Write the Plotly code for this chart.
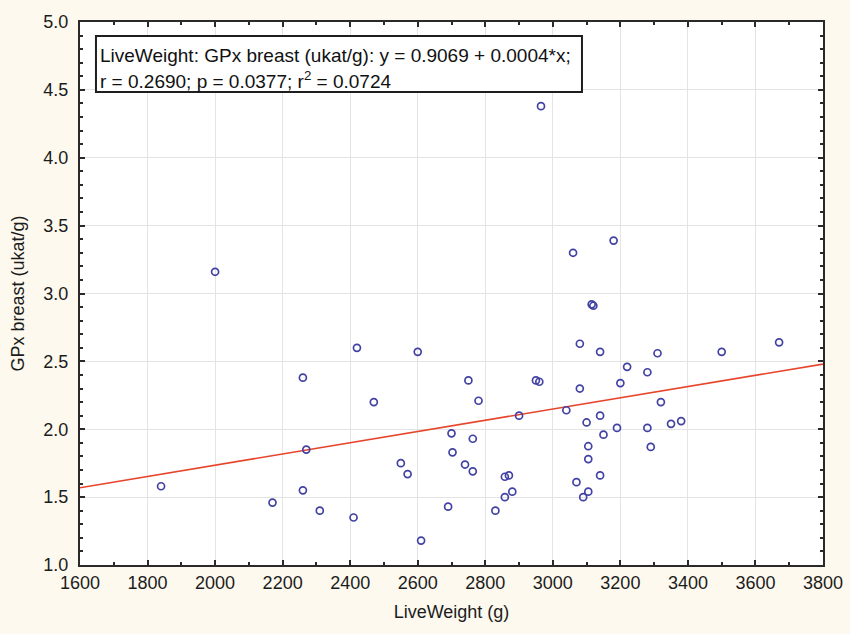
import plotly.graph_objects as go

# Data
live_weight = [1840, 2000, 2170, 2260, 2260, 2270, 2310, 2410, 2420, 2470,
               2550, 2570, 2600, 2610, 2690, 2700, 2703, 2740, 2750, 2763,
               2763, 2780, 2830, 2858, 2870, 2858, 2880, 2900, 2950, 2960,
               2965, 3040, 3060, 3070, 3080, 3080, 3090, 3100, 3105, 3105,
               3105, 3115, 3120, 3140, 3140, 3140, 3150, 3180, 3190, 3200,
               3220, 3280, 3280, 3290, 3310, 3320, 3350, 3380, 3500, 3670]
gpx_breast = [1.58, 3.16, 1.46, 2.38, 1.55, 1.85, 1.40, 1.35, 2.60, 2.20,
              1.75, 1.67, 2.57, 1.18, 1.43, 1.97, 1.83, 1.74, 2.36, 1.93,
              1.69, 2.21, 1.40, 1.65, 1.66, 1.50, 1.54, 2.10, 2.36, 2.35,
              4.38, 2.14, 3.30, 1.61, 2.63, 2.30, 1.50, 2.05, 1.875, 1.78,
              1.54, 2.92, 2.91, 2.57, 2.10, 1.66, 1.96, 3.39, 2.01, 2.34,
              2.46, 2.42, 2.01, 1.87, 2.56, 2.20, 2.04, 2.06, 2.57, 2.64]

# Regression line (intercept from the legend box, slope)
reg_intercept = 0.9069
reg_slope = 0.000414
x_range = [1600, 3800]
y_range = [1.0, 5.0]
x_ticks = [1600, 1800, 2000, 2200, 2400, 2600, 2800, 3000, 3200, 3400, 3600, 3800]
y_ticks = [1.0, 1.5, 2.0, 2.5, 3.0, 3.5, 4.0, 4.5, 5.0]

line1 = "LiveWeight: GPx breast (ukat/g): y = 0.9069 + 0.0004*x;"
line2 = "r = 0.2690; p = 0.0377; r<sup>2</sup> = 0.0724"

reg_y = [reg_intercept + reg_slope * v for v in x_range]

FONT = "Liberation Sans, Arial, sans-serif"
TXT = "#1c1c1c"
BG = "#fdf9ee"

fig = go.Figure()
fig.add_trace(go.Scatter(
    x=x_range, y=reg_y, mode="lines",
    line=dict(color="#e8452c", width=1.6),
    hoverinfo="skip", showlegend=False))
fig.add_trace(go.Scatter(
    x=live_weight, y=gpx_breast, mode="markers",
    marker=dict(symbol="circle-open", size=7, color="#4242a4",
                line=dict(width=1.7, color="#4242a4")),
    showlegend=False))

axis_common = dict(
    showline=True, linecolor="#2a2a2a", linewidth=2, mirror="allticks",
    ticks="inside", ticklen=5, tickwidth=1.5, tickcolor="#2a2a2a",
    showgrid=True, gridcolor="#e4e4e4", gridwidth=1, zeroline=False,
    tickfont=dict(family=FONT, size=18, color=TXT),
    automargin=False,
)

fig.update_xaxes(
    range=x_range, tickvals=x_ticks, ticktext=[str(v) for v in x_ticks],
    minor=dict(dtick=100, ticks="inside", ticklen=3, tickcolor="#2a2a2a", showgrid=False),
    title=dict(text="LiveWeight (g)", font=dict(family=FONT, size=18, color=TXT), standoff=14),
    ticklabelstandoff=0,
    **axis_common)
fig.update_yaxes(
    range=y_range, tickvals=y_ticks, ticktext=[f"{v:.1f}" for v in y_ticks],
    minor=dict(dtick=0.1, ticks="inside", ticklen=3, tickcolor="#2a2a2a", showgrid=False),
    title=dict(text="GPx breast (ukat/g)", font=dict(family=FONT, size=18, color=TXT), standoff=14),
    ticklabelstandoff=6,
    **axis_common)

# Legend/statistics box
fig.add_shape(type="rect", xref="paper", yref="paper",
              x0=0.0215, x1=0.6756, y0=0.871, y1=0.974,
              line=dict(color="#1e1e1e", width=2), fillcolor="white", layer="above")
fig.add_annotation(xref="paper", yref="paper", x=0.0243, y=0.939,
                   xanchor="left", yanchor="middle", showarrow=False, text=line1,
                   font=dict(family=FONT, size=19, color="#111111"))
fig.add_annotation(xref="paper", yref="paper", x=0.0243, y=0.893,
                   xanchor="left", yanchor="middle", showarrow=False, text=line2,
                   font=dict(family=FONT, size=19, color="#111111"))

fig.update_layout(
    width=850, height=634,
    margin=dict(l=80, r=27, t=22, b=69),
    paper_bgcolor=BG, plot_bgcolor="white",
    font=dict(family=FONT),
)

page_fix = ("document.body.style.margin='0';"
            "document.body.style.overflow='hidden';"
            "document.body.style.background='" + BG + "';")
fig.write_html("out.html", post_script=page_fix, config={"displayModeBar": False})
